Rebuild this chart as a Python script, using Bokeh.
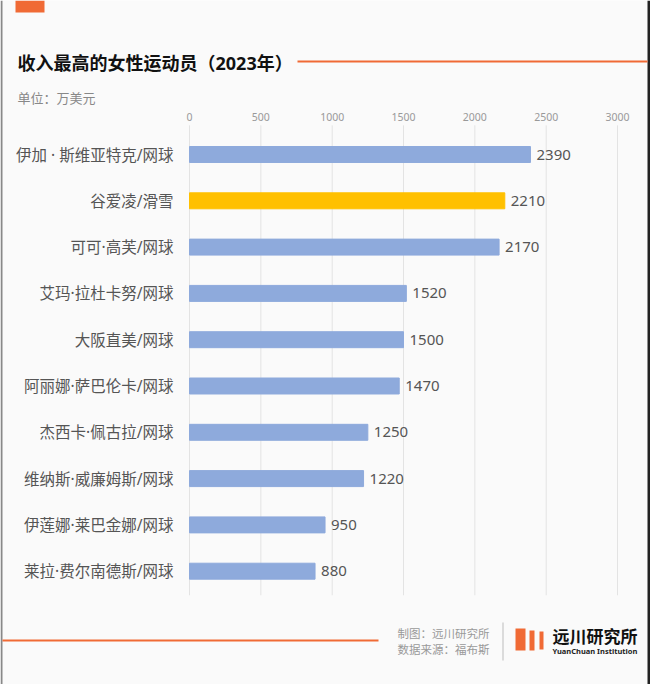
from bokeh.plotting import figure
from bokeh.models import ColumnDataSource, Label, BoxAnnotation, Range1d
from bokeh.core.properties import value
from bokeh.embed import file_html
from bokeh.resources import INLINE

names = ["伊加 · 斯维亚特克/网球", "谷爱凌/滑雪", "可可·高芙/网球", "艾玛·拉杜卡努/网球", "大阪直美/网球",
         "阿丽娜·萨巴伦卡/网球", "杰西卡·佩古拉/网球", "维纳斯·威廉姆斯/网球", "伊莲娜·莱巴金娜/网球", "莱拉·费尔南德斯/网球"]
earnings = [2390, 2210, 2170, 1520, 1500, 1470, 1250, 1220, 950, 880]
bar_colors = ["#8eaadc", "#ffc000"] + ["#8eaadc"] * 8
ticks = [0, 500, 1000, 1500, 2000, 2500, 3000]
tick_labels = [str(t) for t in ticks]

FONT = "Noto Sans, Noto Sans CJK SC"
W, H = 650, 684

# layout of the plotting area in canvas pixels
X0_PX = 189.0          # pixel of value 0
PX_PER_UNIT = 428.0 / 3000
ROW0_PX = 154.0        # pixel of first row centre
ROW_PX = 46.3          # row spacing

x_range = Range1d(-X0_PX / PX_PER_UNIT, (W - X0_PX) / PX_PER_UNIT)
y_range = Range1d((H - ROW0_PX) / ROW_PX, -ROW0_PX / ROW_PX)

rows = list(range(len(names)))
src = ColumnDataSource(dict(row=rows, name=names, val=earnings, col=bar_colors,
                            lab=[str(v) for v in earnings], zero=[0] * len(names)))

p = figure(width=W, height=H, output_backend="svg", toolbar_location=None,
           x_range=x_range, y_range=y_range, min_border=0)
p.axis.visible = False
p.grid.visible = False
p.background_fill_color = "#fafafa"
p.border_fill_color = "#fafafa"
p.outline_line_color = None

# vertical grid lines
grid_top = -0.63
grid_bot = len(names) - 0.48
p.segment(x0=ticks, x1=ticks, y0=[grid_top] * len(ticks), y1=[grid_bot] * len(ticks),
          line_color="#e3e3e3", line_width=1)

# tick labels above
p.text(x=ticks, y=[-0.8] * len(ticks), text=tick_labels, text_align="center", text_baseline="middle",
       text_font=value(FONT), text_font_size="10.5px", text_color="#999999")

# bars
p.hbar(y="row", left="zero", right="val", height=0.345, color="col", source=src)

# value labels
p.text(x="val", y="row", text="lab", source=src, x_offset=6, text_baseline="middle",
       text_font_size="15px", text_color="#555555", text_font=value(FONT))

# category labels
p.text(x="zero", y="row", text="name", source=src, x_offset=-16, text_align="right", text_baseline="middle",
       text_font_size="15.5px", text_color="#555555", text_font=value(FONT))


def lab(x, y, t, size, color, bold=False):
    p.add_layout(Label(x=x, y=H - y, x_units="screen", y_units="screen", text=t,
                       text_font=FONT, text_font_size=size, text_color=color,
                       text_font_style="bold" if bold else "normal", text_baseline="middle"))


def box(l, r, t, b, color):
    p.add_layout(BoxAnnotation(left=l, right=r, top=H - t, bottom=H - b,
                               left_units="screen", right_units="screen", top_units="screen", bottom_units="screen",
                               fill_color=color, fill_alpha=1, line_color=None))


ORANGE = "#f06a35"
# frame edges
box(0, 2, 0, H, "#888888")
box(647, W, 0, H, "#222222")
lab(17, 62, "收入最高的女性运动员（2023年）", "18px", "#111111", True)
lab(17, 97, "单位：万美元", "13px", "#888888")
box(297, 647, 60, 62, ORANGE)
box(15, 44, 0, 12, ORANGE)
box(2, 378, 639, 641, ORANGE)
lab(397, 633, "制图：远川研究所", "11.5px", "#999999")
lab(397, 649, "数据来源：福布斯", "11.5px", "#999999")
box(502, 503, 622, 660, "#bbbbbb")
box(515, 525, 628, 650, ORANGE)
box(529, 534, 630, 650, ORANGE)
box(539, 543, 631, 649, ORANGE)
lab(552, 636, "远川研究所", "17px", "#111111", True)
lab(552, 650, "YuanChuan Institution", "7.5px", "#222222", True)

open("out.html", "w").write(file_html(p, INLINE))
